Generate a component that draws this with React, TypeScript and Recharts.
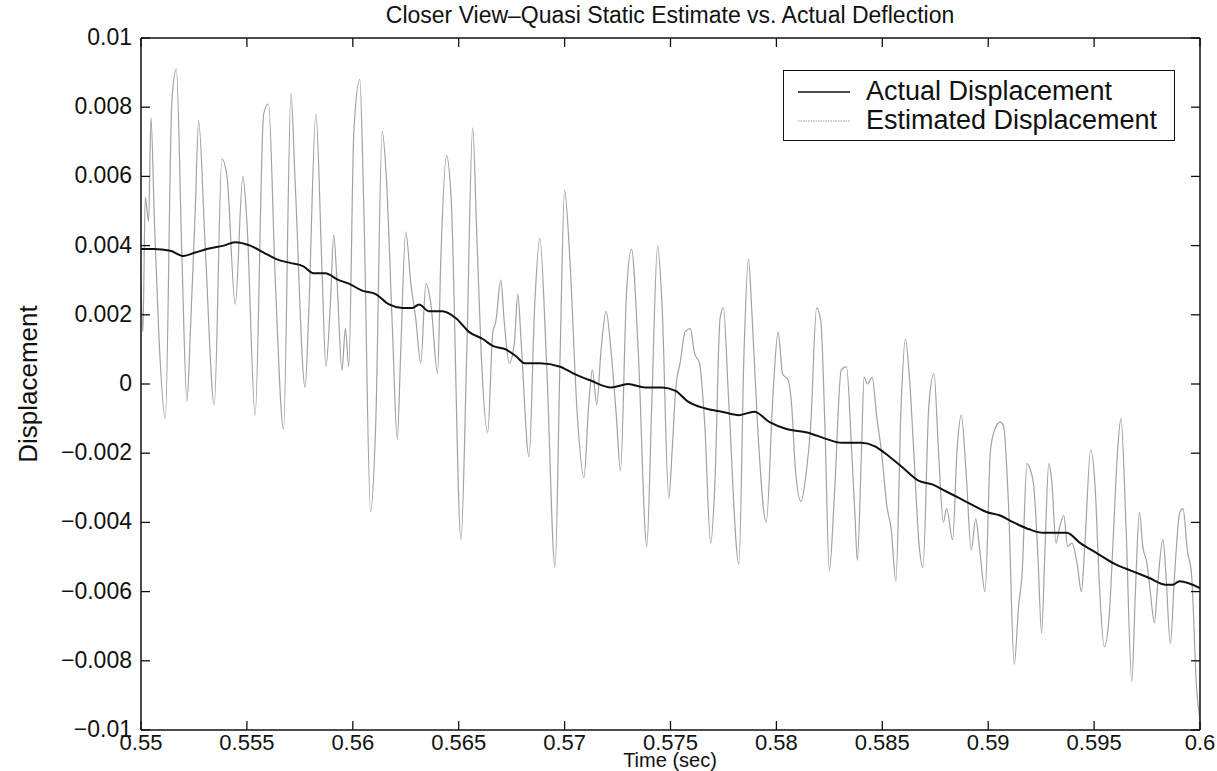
import React from 'react';
import { LineChart, Line, XAxis, YAxis } from 'recharts';

const W = 1217;
const H = 771;
const FONT = '"Liberation Sans", Arial, Helvetica, sans-serif';

const xTicks = [0.55, 0.555, 0.56, 0.565, 0.57, 0.575, 0.58, 0.585, 0.59, 0.595, 0.6];
const xTickLabels = ['0.55', '0.555', '0.56', '0.565', '0.57', '0.575', '0.58', '0.585', '0.59', '0.595', '0.6'];
const yTicks = [0.01, 0.008, 0.006, 0.004, 0.002, 0, -0.002, -0.004, -0.006, -0.008, -0.01];
const yTickLabels = ['0.01', '0.008', '0.006', '0.004', '0.002', '0', '\u22120.002', '\u22120.004', '\u22120.006', '\u22120.008', '\u22120.01'];

// actual displacement (black)
const actTime = [
  0.55, 0.5506, 0.55138, 0.55201, 0.55256, 0.55311, 0.5539, 0.55445, 0.55516, 0.55579,
  0.55642, 0.55704, 0.55767, 0.55814, 0.5587, 0.55934, 0.55981, 0.56044, 0.56108, 0.56171,
  0.56234, 0.56282, 0.56313, 0.5636, 0.56424, 0.56487, 0.5655, 0.56614, 0.56661, 0.56723,
  0.56771, 0.56811, 0.56883, 0.56979, 0.57043, 0.57123, 0.5722, 0.573, 0.5738, 0.5746,
  0.57524, 0.57581, 0.57661, 0.57742, 0.57823, 0.57895, 0.57968, 0.58048, 0.58145, 0.58242,
  0.58306, 0.58401, 0.58465, 0.58513, 0.58593, 0.58673, 0.58736, 0.588, 0.58864, 0.58927,
  0.58992, 0.59056, 0.5912, 0.59194, 0.59258, 0.59323, 0.59371, 0.59435, 0.59516, 0.59597,
  0.59677, 0.59758, 0.59839, 0.59871, 0.59903, 0.6,
];
const actValue = [
  0.0039, 0.0039, 0.00385, 0.0037, 0.0038, 0.0039, 0.004, 0.0041, 0.004, 0.0038,
  0.0036, 0.0035, 0.0034, 0.0032, 0.0032, 0.003, 0.0029, 0.0027, 0.0026, 0.0023,
  0.0022, 0.0022, 0.0023, 0.0021, 0.0021, 0.0019, 0.0015, 0.0013, 0.0011, 0.001,
  0.0008, 0.0006, 0.0006, 0.0005, 0.0003, 0.0001, -0.0001, 0.0, -0.0001, -0.0001,
  -0.0002, -0.0005, -0.0007, -0.0008, -0.0009, -0.0008, -0.0011, -0.0013, -0.0014, -0.0016,
  -0.0017, -0.0017, -0.0018, -0.002, -0.0024, -0.0028, -0.0029, -0.0031, -0.0033, -0.0035,
  -0.0037, -0.0038, -0.004, -0.0042, -0.0043, -0.0043, -0.0043, -0.0046, -0.0049, -0.0052,
  -0.0054, -0.0056, -0.0058, -0.0058, -0.0057, -0.0059,
];

// estimated displacement (grey)
const estTime = [
  0.55, 0.55009, 0.5502, 0.55036, 0.55047, 0.55063, 0.55083, 0.55115, 0.55146, 0.55167,
  0.55193, 0.55217, 0.55233, 0.55256, 0.55272, 0.55303, 0.55346, 0.55382, 0.55406, 0.55445,
  0.55481, 0.555, 0.55539, 0.55579, 0.55602, 0.55634, 0.55673, 0.55708, 0.55728, 0.55775,
  0.55791, 0.55826, 0.55854, 0.55873, 0.55894, 0.5591, 0.55926, 0.55949, 0.55965, 0.55981,
  0.56005, 0.56033, 0.56052, 0.56084, 0.56108, 0.56139, 0.56158, 0.56187, 0.5621, 0.56226,
  0.5625, 0.56274, 0.56297, 0.56321, 0.56345, 0.56369, 0.564, 0.56416, 0.56443, 0.56464,
  0.56511, 0.56538, 0.56566, 0.56585, 0.56606, 0.56637, 0.56661, 0.56675, 0.56699, 0.56715,
  0.56739, 0.56763, 0.56779, 0.56795, 0.56832, 0.56859, 0.56883, 0.56915, 0.56955, 0.56979,
  0.57, 0.57024, 0.57059, 0.57091, 0.57115, 0.57131, 0.57152, 0.57171, 0.57196, 0.5722,
  0.57244, 0.57264, 0.57292, 0.57316, 0.57348, 0.57388, 0.57412, 0.57439, 0.5746, 0.57492,
  0.57508, 0.57524, 0.57548, 0.57568, 0.57594, 0.57613, 0.57637, 0.57661, 0.5769, 0.5771,
  0.57734, 0.5775, 0.57774, 0.57823, 0.57847, 0.57868, 0.57884, 0.57911, 0.57952, 0.57984,
  0.58008, 0.58029, 0.58056, 0.58073, 0.58089, 0.58116, 0.58142, 0.58161, 0.5819, 0.5821,
  0.58229, 0.5825, 0.58274, 0.58306, 0.58331, 0.58355, 0.58371, 0.58382, 0.58401, 0.58414,
  0.5843, 0.58452, 0.58473, 0.58497, 0.58521, 0.58542, 0.58564, 0.58589, 0.58609, 0.58628,
  0.58649, 0.58673, 0.58692, 0.5872, 0.58744, 0.58765, 0.58788, 0.58804, 0.58832, 0.58853,
  0.58873, 0.58896, 0.5892, 0.58941, 0.5896, 0.58985, 0.59011, 0.59032, 0.59056, 0.59072,
  0.59096, 0.59123, 0.59144, 0.5916, 0.59183, 0.592, 0.59216, 0.59235, 0.59252, 0.59268,
  0.59286, 0.593, 0.5932, 0.59335, 0.59357, 0.59375, 0.59395, 0.5942, 0.5944, 0.59455,
  0.59484, 0.59505, 0.59525, 0.59548, 0.5957, 0.5959, 0.5961, 0.59627, 0.5965, 0.59678,
  0.59695, 0.59714, 0.5973, 0.5975, 0.59765, 0.59785, 0.598, 0.59825, 0.5984, 0.5986,
  0.5988, 0.59905, 0.5992, 0.5994, 0.5996, 0.59984, 0.6,
];
const estValue = [
  0.0029, 0.0015, 0.0054, 0.0047, 0.0077, 0.0048, 0.0016, -0.001, 0.0082, 0.0091,
  0.0037, -0.0005, 0.0015, 0.005, 0.0076, 0.004, -0.0006, 0.0065, 0.006, 0.0023,
  0.006, 0.0047, -0.0009, 0.0078, 0.0081, 0.003, -0.0013, 0.0084, 0.0058, -0.0001,
  0.0019, 0.0078, 0.0034, 0.0005, 0.0023, 0.0043, 0.0029, 0.0004, 0.0016, 0.0005,
  0.0073, 0.0088, 0.0051, -0.0037, -0.0012, 0.0073, 0.006, 0.0016, -0.0016, 0.0009,
  0.0044, 0.0029, 0.0019, 0.0006, 0.0029, 0.0023, 0.0003, 0.0037, 0.0066, 0.0054,
  -0.0045, 0.0009, 0.0074, 0.0044, 0.0009, -0.0014, 0.0015, 0.0018, 0.003, 0.0018,
  0.0006, 0.0012, 0.0026, 0.0012, -0.0021, 0.0023, 0.0042, 0.0006, -0.0053, 0.0009,
  0.0056, 0.0037, -0.0008, -0.0027, -0.0005, 0.0004, -0.0006, 0.0009, 0.0021, 0.0009,
  -0.0009, -0.0025, 0.0026, 0.0039, 0.0009, -0.0047, -0.0005, 0.004, 0.0023, -0.0033,
  -0.0019, -0.0002, 0.0007, 0.0015, 0.0016, 0.0009, 0.0006, -0.0011, -0.0046, -0.0028,
  0.0019, 0.0022, -0.0004, -0.0052, 0.0009, 0.0036, 0.0021, -0.0012, -0.004, -0.0003,
  0.0015, 0.0003, 0.0001, -0.0007, -0.0024, -0.0034, -0.0025, -0.0013, 0.0022, 0.0018,
  -0.0012, -0.0054, -0.0032, 0.0004, 0.0005, -0.0019, -0.0038, -0.0051, -0.0021, 0.0002,
  0.0, 0.0002, -0.0009, -0.002, -0.0035, -0.0042, -0.0057, -0.0006, 0.0013, 0.0002,
  -0.002, -0.0046, -0.0053, -0.0006, 0.0003, -0.0019, -0.004, -0.0036, -0.0045, -0.0019,
  -0.0009, -0.0026, -0.0048, -0.0039, -0.0048, -0.006, -0.0019, -0.0013, -0.0011, -0.0012,
  -0.0035, -0.0081, -0.0064, -0.0055, -0.0023, -0.0025, -0.003, -0.005, -0.0072, -0.0048,
  -0.0023, -0.0028, -0.0046, -0.0042, -0.0038, -0.0047, -0.0046, -0.0052, -0.006, -0.0048,
  -0.0019, -0.003, -0.0058, -0.0076, -0.0068, -0.0045, -0.002, -0.001, -0.004, -0.0086,
  -0.006, -0.0037, -0.0047, -0.0052, -0.006, -0.0069, -0.0058, -0.0045, -0.0056, -0.0075,
  -0.0055, -0.0037, -0.0036, -0.0048, -0.0055, -0.0088, -0.0097,
];

const actData = actTime.map((t, i) => ({ t, v: actValue[i] }));
const estData = estTime.map((t, i) => ({ t, v: estValue[i] }));

const TICK_LEN = 9;
const tickText = { fontFamily: FONT, fontSize: 22, fill: '#111' };

const BottomTick = (props: any) => {
  const { x, y, index } = props;
  return (
    <g>
      <line x1={x} x2={x} y1={y} y2={y - TICK_LEN} stroke="#111" strokeWidth={1.3} />
      <text x={x} y={y + 20} textAnchor="middle" {...tickText}>{xTickLabels[index]}</text>
    </g>
  );
};

const LeftTick = (props: any) => {
  const { x, y, index } = props;
  return (
    <g>
      <line x1={x} x2={x + TICK_LEN} y1={y} y2={y} stroke="#111" strokeWidth={1.3} />
      <text x={x - 9} y={y + 7} textAnchor="end" fontFamily={FONT} fontSize={23} fill="#111">{yTickLabels[index]}</text>
    </g>
  );
};

const TopTick = (props: any) => {
  const { x, y } = props;
  return <line x1={x} x2={x} y1={y} y2={y + TICK_LEN} stroke="#111" strokeWidth={1.3} />;
};

const RightTick = (props: any) => {
  const { x, y } = props;
  return <line x1={x} x2={x - TICK_LEN} y1={y} y2={y} stroke="#111" strokeWidth={1.3} />;
};

function LegendBox() {
  return (
    <div
      style={{
        position: 'absolute',
        left: 783,
        top: 70,
        width: 392,
        height: 71,
        border: '1.5px solid #111',
        background: '#fff',
        boxSizing: 'border-box',
        fontFamily: FONT,
        fontSize: 27,
        color: '#111',
      }}
    >
      <svg width={80} height={68} style={{ position: 'absolute', left: 0, top: 0 }}>
        <line x1={14} x2={66} y1={21} y2={21} stroke="#111" strokeWidth={1.5} />
        <line x1={14} x2={66} y1={50} y2={50} stroke="#9c9c9c" strokeWidth={1.2} strokeDasharray="1.5 1" />
      </svg>
      <div style={{ position: 'absolute', left: 82, top: 5, lineHeight: '30px', whiteSpace: 'nowrap' }}>Actual Displacement</div>
      <div style={{ position: 'absolute', left: 82, top: 34, lineHeight: '30px', whiteSpace: 'nowrap' }}>Estimated Displacement</div>
    </div>
  );
}

export default function App() {
  return (
    <div style={{ position: 'absolute', left: 0, top: 0, width: W, height: H, background: '#fff' }}>
      <LineChart width={W} height={H} margin={{ top: 0, right: 0, bottom: 0, left: 0 }}>
        <XAxis
          xAxisId="bottom"
          type="number"
          dataKey="t"
          domain={[0.55, 0.6]}
          ticks={xTicks}
          allowDataOverflow
          height={41}
          tickSize={0}
          tickMargin={0}
          tickLine={false}
          axisLine={{ stroke: '#111', strokeWidth: 1.5 }}
          tick={<BottomTick />}
          interval={0}
          label={{
            content: () => (
              <text x={670} y={767} textAnchor="middle" fontFamily={FONT} fontSize={20} fill="#111">Time (sec)</text>
            ),
          }}
        />
        <XAxis
          xAxisId="top"
          orientation="top"
          type="number"
          dataKey="t"
          domain={[0.55, 0.6]}
          ticks={xTicks}
          allowDataOverflow
          height={38}
          tickSize={0}
          tickMargin={0}
          tickLine={false}
          axisLine={{ stroke: '#111', strokeWidth: 1.5 }}
          tick={<TopTick />}
          interval={0}
          label={{
            content: () => (
              <text x={670} y={23} textAnchor="middle" fontFamily={FONT} fontSize={23} fill="#111">
                Closer View–Quasi Static Estimate vs. Actual Deflection
              </text>
            ),
          }}
        />
        <YAxis
          yAxisId="left"
          type="number"
          domain={[-0.01, 0.01]}
          ticks={yTicks}
          allowDataOverflow
          width={141}
          tickSize={0}
          tickMargin={0}
          tickLine={false}
          axisLine={{ stroke: '#111', strokeWidth: 1.5 }}
          tick={<LeftTick />}
          interval={0}
          label={{
            content: () => (
              <text transform="translate(37,384) rotate(-90)" textAnchor="middle" fontFamily={FONT} fontSize={26} fill="#111">
                Displacement
              </text>
            ),
          }}
        />
        <YAxis
          yAxisId="right"
          orientation="right"
          type="number"
          domain={[-0.01, 0.01]}
          ticks={yTicks}
          allowDataOverflow
          width={17}
          tickSize={0}
          tickMargin={0}
          tickLine={false}
          axisLine={{ stroke: '#111', strokeWidth: 1.5 }}
          tick={<RightTick />}
          interval={0}
        />
        <Line
          data={estData}
          xAxisId="bottom"
          yAxisId="left"
          dataKey="v"
          type="monotone"
          stroke="#a2a2a2"
          strokeWidth={1.2}
          dot={false}
          isAnimationActive={false}
        />
        <Line
          data={actData}
          xAxisId="bottom"
          yAxisId="left"
          dataKey="v"
          type="monotone"
          stroke="#111"
          strokeWidth={2}
          dot={false}
          isAnimationActive={false}
        />
      </LineChart>
      <LegendBox />
    </div>
  );
}
